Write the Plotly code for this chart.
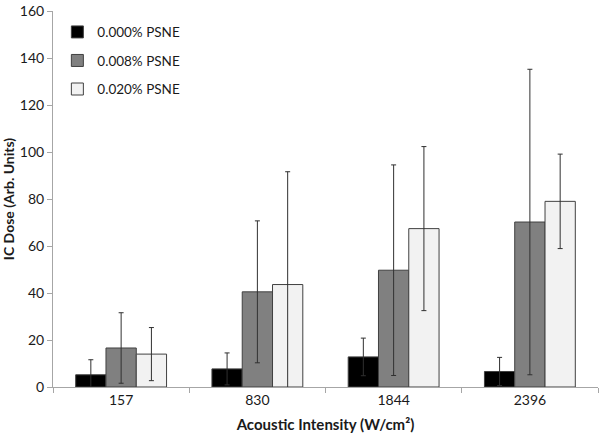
import plotly.graph_objects as go

categories = ["157", "830", "1844", "2396"]
series_names = ["0.000% PSNE", "0.008% PSNE", "0.020% PSNE"]
psne_000 = [5.2, 7.7, 12.8, 6.6]
psne_008 = [16.6, 40.5, 49.7, 70.2]
psne_020 = [14.0, 43.6, 67.4, 79.0]
err_000 = [6.4, 6.8, 8.0, 6.0]
err_008 = [15.0, 30.2, 44.8, 65.0]
err_020 = [11.3, 48.0, 34.9, 20.1]
y_ticks = [0, 20, 40, 60, 80, 100, 120, 140, 160]

colors = ["#000000", "#808080", "#f2f2f2"]
values = [psne_000, psne_008, psne_020]
errors = [err_000, err_008, err_020]

FONT = "Lato, 'Open Sans', sans-serif"

fig = go.Figure()
for i, (name, vals, errs) in enumerate(zip(series_names, values, errors)):
    fig.add_trace(go.Bar(
        x=categories, y=vals, name=name,
        legendgroup=name,
        marker=dict(color=colors[i], line=dict(color="#404040", width=1)),
        error_y=dict(type="data", array=errs, visible=True,
                     color="#303030", thickness=1, width=2.5),
    ))

fig.update_layout(
    width=600, height=436,
    margin=dict(l=53, r=2, t=5, b=49),
    paper_bgcolor="white", plot_bgcolor="white",
    barmode="group", bargap=0.333, bargroupgap=0,
    font=dict(family=FONT, size=14, color="#1a1a1a"),
    showlegend=True,
    legend=dict(x=0.008, y=0.985, xanchor="left", yanchor="top",
                bgcolor="rgba(0,0,0,0)", traceorder="grouped",
                tracegroupgap=8, itemwidth=30,
                font=dict(family=FONT, size=13.5, color="#1a1a1a")),
    xaxis=dict(
        type="category", tickson="boundaries",
        showline=True, linecolor="#a6a6a6", linewidth=1,
        ticks="outside", ticklen=5, tickcolor="#a6a6a6",
        tickfont=dict(family=FONT, size=14, color="#1a1a1a"),
        title=dict(text="<b>Acoustic Intensity (W/cm²)</b>",
                   font=dict(family=FONT, size=15, color="#1a1a1a"), standoff=12),
        showgrid=False, zeroline=False,
    ),
    yaxis=dict(
        range=[0, 160], tickvals=y_ticks,
        showline=True, linecolor="#a6a6a6", linewidth=1,
        ticks="outside", ticklen=5, tickcolor="#a6a6a6",
        ticklabeloverflow="allow",
        tickfont=dict(family=FONT, size=14, color="#1a1a1a"),
        title=dict(text="<b>IC Dose (Arb. Units)</b>",
                   font=dict(family=FONT, size=14, color="#1a1a1a"), standoff=6),
        showgrid=False, zeroline=False,
    ),
)

fig.write_html("out.html", config={"displayModeBar": False},
               post_script="document.body.style.margin='0';")
